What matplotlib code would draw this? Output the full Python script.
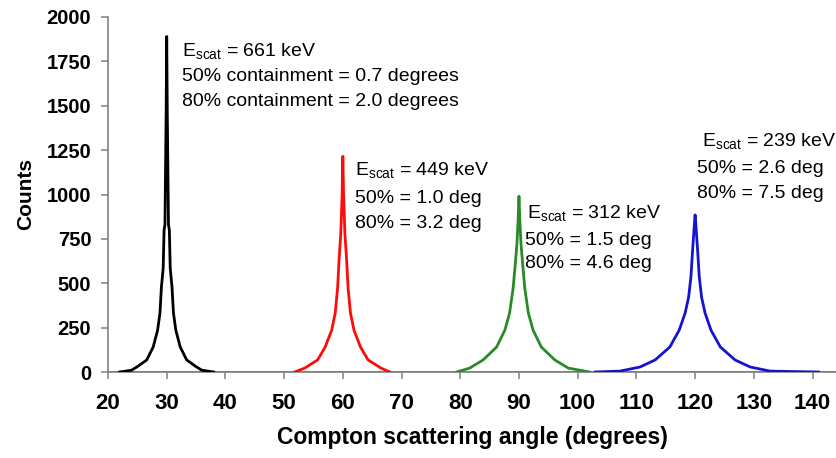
import matplotlib
matplotlib.use('Agg')
import matplotlib.pyplot as plt

plt.rcParams['font.family'] = 'Liberation Sans'
plt.rcParams['mathtext.fontset'] = 'custom'
plt.rcParams['mathtext.rm'] = 'Liberation Sans'
plt.rcParams['mathtext.it'] = 'Liberation Sans:italic'

# Angular distributions of the scattered photons (degrees, counts)
angle_661 = [22.0, 24.0, 25.0, 26.6, 27.7, 28.45, 28.85, 29.1, 29.4, 29.55, 29.7, 29.9, 30.0,
             30.1, 30.3, 30.45, 30.6, 30.9, 31.15, 31.55, 32.3, 33.4, 35.0, 36.0, 38.0]
counts_661 = [0, 10, 30, 68, 141, 236, 332, 479, 585, 800, 830, 1450, 1890,
              1450, 830, 800, 585, 479, 332, 236, 141, 68, 30, 10, 0]

angle_449 = [51.8, 53.5, 55.7, 57.0, 58.1, 58.7, 59.1, 59.37, 59.65, 59.88, 60.0,
             60.12, 60.35, 60.63, 60.9, 61.3, 61.9, 63.0, 64.3, 66.5, 68.0]
counts_449 = [0, 22, 68, 141, 236, 332, 470, 640, 780, 1000, 1215,
              1000, 780, 640, 470, 332, 236, 141, 68, 22, 0]

angle_312 = [79.4, 81.6, 83.9, 86.2, 87.6, 88.4, 89.0, 89.35, 89.65, 89.85, 90.0,
             90.15, 90.35, 90.65, 91.0, 91.6, 92.4, 93.8, 96.1, 98.4, 102.0]
counts_312 = [0, 22, 68, 141, 236, 332, 470, 600, 720, 850, 990,
              850, 720, 600, 470, 332, 236, 141, 68, 22, 0]

angle_239 = [103.0, 107.2, 110.6, 113.2, 115.7, 117.3, 118.3, 118.9, 119.3, 119.6, 119.85, 120.0,
             120.15, 120.4, 120.7, 121.1, 121.7, 122.7, 124.3, 126.8, 129.4, 132.8, 141.0]
counts_239 = [0, 5, 28, 68, 141, 236, 332, 422, 540, 700, 820, 885,
              820, 700, 540, 422, 332, 236, 141, 68, 28, 5, 0]

x_ticks = [20, 30, 40, 50, 60, 70, 80, 90, 100, 110, 120, 130, 140]
y_ticks = [0, 250, 500, 750, 1000, 1250, 1500, 1750, 2000]

fig = plt.figure(figsize=(8.36, 4.58), dpi=100)
ax = fig.add_axes([108 / 836, 1 - 372 / 458, 728 / 836, 355 / 458])

# zero line running under all four peaks
ax.axhline(0, color='#6b6bb0', lw=1.3, zorder=1)

ax.plot(angle_661, counts_661, color='black', lw=2.0, zorder=3)
ax.plot(angle_449, counts_449, color='#ff0a0a', lw=2.0, zorder=3)
ax.plot(angle_312, counts_312, color='#2a8a2a', lw=2.0, zorder=3)
ax.plot(angle_239, counts_239, color='#1414d0', lw=2.0, zorder=3)

ax.set_xlim(20, 144)
ax.set_ylim(0, 2000)
ax.set_xticks(x_ticks)
ax.set_yticks(y_ticks)

for side in ['top', 'right']:
    ax.spines[side].set_visible(False)
for side in ['left', 'bottom']:
    ax.spines[side].set_color('#808080')
    ax.spines[side].set_linewidth(1.2)

ax.tick_params(axis='both', direction='out', length=5, width=1.1, color='#808080')
ax.tick_params(axis='y', pad=7, labelsize=14.5)
ax.tick_params(axis='x', pad=10, labelsize=16)
for lab in ax.get_xticklabels() + ax.get_yticklabels():
    lab.set_fontweight('bold')

ax.set_xlabel('Compton scattering angle (degrees)', fontsize=16.5, fontweight='bold', labelpad=9)
ax.set_ylabel('Counts', fontsize=15, fontweight='bold', labelpad=8)

# energy and containment notes beside each peak
fs = 14
ax.text(32.55, 1780, r'E$_{\mathrm{scat}}$ = 661 keV', fontsize=fs, va='baseline')
ax.text(32.55, 1640, '50% containment = 0.7 degrees', fontsize=fs, va='baseline')
ax.text(32.55, 1499, '80% containment = 2.0 degrees', fontsize=fs, va='baseline')

ax.text(62.0, 1110, r'E$_{\mathrm{scat}}$ = 449 keV', fontsize=fs, va='baseline')
ax.text(62.0, 952, '50% = 1.0 deg', fontsize=fs, va='baseline')
ax.text(62.0, 811, '80% = 3.2 deg', fontsize=fs, va='baseline')

ax.text(91.3, 868, r'E$_{\mathrm{scat}}$ = 312 keV', fontsize=fs, va='baseline')
ax.text(91.0, 716, '50% = 1.5 deg', fontsize=fs, va='baseline')
ax.text(91.0, 586, '80% = 4.6 deg', fontsize=fs, va='baseline')

ax.text(121.1, 1273, r'E$_{\mathrm{scat}}$ = 239 keV', fontsize=fs, va='baseline')
ax.text(120.4, 1121, '50% = 2.6 deg', fontsize=fs, va='baseline')
ax.text(120.4, 980, '80% = 7.5 deg', fontsize=fs, va='baseline')

fig.savefig('out.png', dpi=100)
